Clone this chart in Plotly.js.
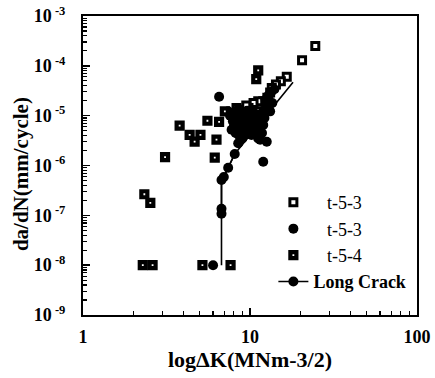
<!DOCTYPE html>
<html>
<head>
<meta charset="utf-8">
<script src="https://cdn.plot.ly/plotly-3.0.1.min.js"></script>
<style>html,body{margin:0;padding:0;background:#fff;}#chart{width:435px;height:378px;}</style>
</head>
<body>
<div id="chart"></div>
<script>
// t-5-3 (open squares)
var openK = [24.6, 20.5, 16.6, 15.3, 14.3, 13.5, 13.2, 12.7, 12.0, 11.2, 10.5, 11.2, 9.8, 9.1, 8.3, 10.3, 9.5];
var openR = [2.5e-4, 1.3e-4, 6.05e-5, 4.93e-5, 4.2e-5, 3.6e-5, 2.9e-5, 2.3e-5, 1.95e-5, 1.95e-5, 1.8e-5, 1.22e-5, 1.43e-5, 1.32e-5, 1.43e-5, 5.2e-6, 1.6e-5];
// t-5-3 (filled circles)
var circK = [6.53, 6.01, 12.0, 7.4, 8.3, 9.1, 10.5, 11.8, 13.2, 7.9, 8.7, 9.8, 11.0, 7.76, 8.7, 9.3, 10.2, 11.2, 11.5, 12.6, 8.5, 8.0, 9.5, 10.8, 8.4, 9.6, 12.2, 8.2, 10.0, 9.0, 12.4, 13.0, 13.6, 11.2,
             7.6, 8.9, 10.3, 11.6, 9.2, 10.0, 8.0, 9.5, 10.6, 12.0, 11.8, 9.7, 8.6, 12.2, 12.8, 12.9, 13.4, 12.5, 14.0];
var circR = [2.39e-5, 1.0e-8, 1.19e-6, 1.22e-5, 1.05e-5, 1.13e-5, 1.17e-5, 1.13e-5, 1.22e-5, 7.7e-6, 6.6e-6, 7.1e-6, 7.7e-6, 5.2e-6, 5.2e-6, 4.1e-6, 4.1e-6, 5.2e-6, 3.3e-6, 3.0e-6, 2.8e-6, 9.0e-6, 9.0e-6, 9.5e-6, 1.3e-5, 1.25e-5, 9.0e-6, 4.5e-6, 5.8e-6, 3.5e-6, 2.1e-5, 2.6e-5, 1.8e-5, 3.5e-6,
             1.0e-5, 8.0e-6, 8.5e-6, 7.0e-6, 1.0e-5, 1.05e-5, 6.0e-6, 6.0e-6, 6.3e-6, 6.5e-6, 4.5e-6, 4.8e-6, 4.0e-6, 1.3e-5, 1.5e-5, 2.5e-5, 3.0e-5, 2.0e-5, 3.4e-5];
// t-5-4 (filled squares with dot)
var sqK = [2.28, 2.61, 5.19, 7.65, 2.33, 2.53, 3.1, 3.79, 4.35, 4.66, 5.05, 5.56, 6.53, 6.3, 6.15, 11.2, 10.9, 7.07];
var sqR = [1e-8, 1e-8, 1e-8, 1e-8, 2.65e-7, 1.78e-7, 1.47e-6, 6.3e-6, 4.1e-6, 3.0e-6, 4.1e-6, 7.9e-6, 7.5e-6, 3.3e-6, 1.44e-6, 8.1e-5, 5.4e-5, 1.22e-5];
// Long Crack: full curve and the measured points on it
var lcK = [6.75, 6.75, 6.97, 7.4, 8.1, 18.1];
var lcR = [1.0e-8, 5.1e-7, 5.9e-7, 9.0e-7, 1.7e-6, 4.7e-5];
var lcPtK = [6.75, 6.75, 6.75, 6.97, 7.4, 8.1];
var lcPtR = [1.08e-7, 1.36e-7, 5.1e-7, 5.9e-7, 9.0e-7, 1.7e-6];

var yTickVals = [1e-9, 1e-8, 1e-7, 1e-6, 1e-5, 1e-4, 1e-3];
var yTickText = ['-9', '-8', '-7', '-6', '-5', '-4', '-3'].map(function(e){return '<b>10</b><sup><b> ' + e + '</b></sup>';});
var xTickVals = [1, 10, 100];
var xTickText = ['<b>1</b>', '<b>10</b>', '<b>100</b>'];

function minorTicks(lo, hi) {
  var out = [];
  for (var d = lo; d < hi; d++) for (var m = 2; m <= 9; m++) out.push(m * Math.pow(10, d));
  return out;
}

var font = 'Liberation Serif, Times New Roman, serif';
var nb = '\u00a0\u00a0\u00a0';

var traces = [
  {x: openK, y: openR, type: 'scatter', mode: 'markers', name: nb + 't-5-3',
   marker: {symbol: 'square', size: 7, color: 'white', line: {color: 'black', width: 3}}},
  {x: circK, y: circR, type: 'scatter', mode: 'markers', name: nb + 't-5-3',
   marker: {symbol: 'circle', size: 10, color: 'black', line: {width: 0}}},
  {x: sqK, y: sqR, type: 'scatter', mode: 'markers', name: nb + 't-5-4',
   marker: {symbol: 'square', size: 6, color: 'white', line: {color: 'black', width: 4.2}}},
  {x: lcK, y: lcR, type: 'scatter', mode: 'lines', showlegend: false, hoverinfo: 'skip',
   line: {color: 'black', width: 1.6}},
  {x: lcPtK, y: lcPtR, type: 'scatter', mode: 'lines+markers', name: '<b>Long Crack</b>',
   line: {color: 'black', width: 1.6},
   marker: {symbol: 'circle', size: 10, color: 'black'}}
];

var axisCommon = {
  type: 'log', showgrid: false, zeroline: false, showline: true, linecolor: 'black', linewidth: 2,
  mirror: true, ticks: 'inside', ticklen: 7, tickwidth: 1.5, tickcolor: 'black',
  tickfont: {family: font, size: 18, color: 'black'}
};

var layout = {
  width: 435, height: 378,
  margin: {l: 83, r: 18, t: 16, b: 63},
  paper_bgcolor: 'white', plot_bgcolor: 'white',
  showlegend: true,
  legend: {x: 0.57, y: 0.438, xanchor: 'left', yanchor: 'top', bgcolor: 'rgba(0,0,0,0)',
           font: {family: font, size: 18, color: 'black'}, tracegroupgap: 0},
  xaxis: Object.assign({}, axisCommon, {
    range: [0, 2], tickmode: 'array', tickvals: xTickVals, ticktext: xTickText,
    ticklabelstandoff: 4,
    minor: {tickmode: 'array', tickvals: minorTicks(0, 2), ticks: 'inside', ticklen: 4, tickwidth: 1.2, tickcolor: 'black', showgrid: false},
    title: {text: '<b>logΔK(MNm-3/2)</b>', font: {family: font, size: 22, color: 'black'}, standoff: 2}
  }),
  yaxis: Object.assign({}, axisCommon, {
    range: [-9, -3], tickmode: 'array', tickvals: yTickVals, ticktext: yTickText,
    ticklabelstandoff: 12,
    minor: {tickmode: 'array', tickvals: minorTicks(-9, -3), ticks: 'inside', ticklen: 4, tickwidth: 1.2, tickcolor: 'black', showgrid: false}
  }),
  annotations: [{
    text: '<b>da/dN(mm/cycle)</b>', textangle: -90, showarrow: false,
    xref: 'paper', yref: 'paper', x: -0.185, y: 0.472, xanchor: 'center', yanchor: 'middle',
    font: {family: font, size: 21, color: 'black'}
  }]
};

Plotly.newPlot('chart', traces, layout, {displayModeBar: false, staticPlot: true});
</script>
</body>
</html>
